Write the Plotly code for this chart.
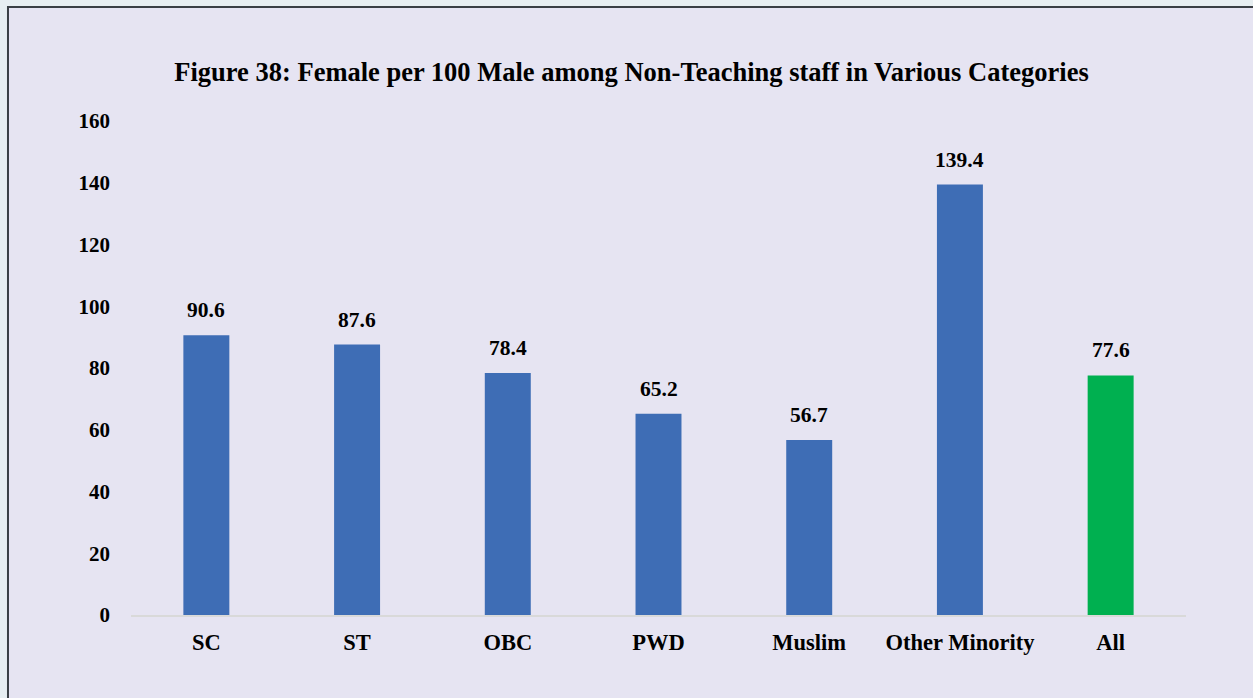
import plotly.graph_objects as go

categories = ["SC", "ST", "OBC", "PWD", "Muslim", "Other Minority", "All"]
female_per_100_male = [90.6, 87.6, 78.4, 65.2, 56.7, 139.4, 77.6]
bar_colors = ["#3E6DB5"] * 6 + ["#00B050"]
y_ticks = [0, 20, 40, 60, 80, 100, 120, 140, 160]

FONT = "Liberation Serif, Times New Roman, serif"

fig = go.Figure(
    go.Bar(
        x=categories,
        y=female_per_100_male,
        marker=dict(color=bar_colors, line=dict(width=0)),
        width=0.305,
        hoverinfo="x+y",
    )
)

# value labels above each bar
for cat, val in zip(categories, female_per_100_male):
    fig.add_annotation(
        x=cat, y=val, text=f"<b>{val:.1f}</b>",
        showarrow=False, yanchor="bottom", yshift=11,
        font=dict(family=FONT, size=21.5, color="#000000"),
    )

# framed panel behind the chart
fig.add_shape(
    type="rect", xref="paper", yref="paper", layer="below",
    x0=-0.1166, x1=1.08, y0=-0.2, y1=1.2308,
    fillcolor="#E6E4F2", line=dict(color="#3A3F44", width=2),
)

fig.update_layout(
    width=1253, height=698,
    margin=dict(l=131, r=67, t=121, b=83),
    paper_bgcolor="#E7EEF1",
    plot_bgcolor="rgba(0,0,0,0)",
    showlegend=False,
    title=dict(
        text="<b>Figure 38: Female per 100 Male among Non-Teaching staff in Various Categories</b>",
        x=0.504, xanchor="center", y=1 - 72 / 698, yanchor="middle",
        font=dict(family=FONT, size=26.5, color="#000000"),
    ),
    font=dict(family=FONT, color="#000000"),
    xaxis=dict(
        showline=True, linecolor="#D9D9D9", linewidth=2,
        showgrid=False, ticks="", ticklabelstandoff=6,
        tickvals=categories,
        ticktext=[f"<b>{c}</b>" for c in categories],
        tickfont=dict(family=FONT, size=22.5, color="#000000"),
    ),
    yaxis=dict(
        range=[0, 160], tickvals=y_ticks,
        ticktext=[f"<b>{v}</b>" for v in y_ticks],
        showgrid=False, zeroline=False, showline=False, ticks="",
        ticklabelstandoff=20,
        tickfont=dict(family=FONT, size=21, color="#000000"),
    ),
)

fig.write_html("out.html")
